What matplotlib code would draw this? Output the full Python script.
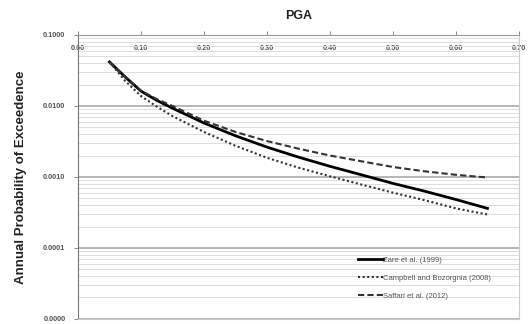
import matplotlib
matplotlib.use("Agg")
import matplotlib.pyplot as plt
from matplotlib.ticker import FixedLocator, LogLocator, NullFormatter

plt.rcParams['font.family'] = ['Liberation Sans', 'DejaVu Sans']

pga = [0.05, 0.075, 0.10, 0.125, 0.15, 0.20, 0.25, 0.30, 0.35, 0.40, 0.45, 0.50, 0.55, 0.60, 0.65]
zare = [0.0417, 0.0256, 0.0162, 0.0120, 0.0093, 0.00575, 0.0038, 0.00263, 0.0019, 0.00141,
        0.00107, 0.00081, 0.00063, 0.00048, 0.00036]
campbell = [0.0417, 0.0225, 0.0138, 0.0098, 0.0072, 0.0043, 0.00275, 0.00186, 0.00135, 0.00102,
            0.00078, 0.0006, 0.00047, 0.00036, 0.000295]
saffari = [0.0417, 0.0256, 0.0164, 0.0125, 0.0100, 0.0062, 0.0043, 0.0032, 0.0025, 0.0020,
           0.00166, 0.00138, 0.0012, 0.00107, 0.00098]
x_ticks = [0.0, 0.1, 0.2, 0.3, 0.4, 0.5, 0.6, 0.7]
y_ticks = [0.1, 0.01, 0.001, 0.0001, 0.00001]

fig = plt.figure(figsize=(5.29, 3.24), dpi=100)
ax = fig.add_axes([0.1474, 0.016, 0.8336, 0.876])

ax.plot(pga, zare, color='black', lw=2.0, label='Zare et al. (1999)')
ax.plot(pga, campbell, color='#333333', lw=1.5, ls=(0, (1, 1.2)),
        label='Campbell and Bozorgnia (2008)')
ax.plot(pga, saffari, color='#333333', lw=1.5, ls=(0, (3, 1.5)),
        label='Saffari et al. (2012)')

ax.set_yscale('log')
ax.set_ylim(0.00001, 0.1)
ax.set_xlim(0, 0.7)

ax.yaxis.set_major_locator(FixedLocator(y_ticks))
ax.set_yticklabels([f"{v:.4f}" for v in y_ticks])
ax.yaxis.set_minor_locator(LogLocator(base=10, subs=range(2, 10)))
ax.yaxis.set_minor_formatter(NullFormatter())
ax.tick_params(axis='y', which='minor', length=0)
ax.tick_params(axis='y', which='major', length=3, width=0.6, color='#777777',
               labelsize=5.3, labelcolor='#555555', pad=6)

ax.set_xticks(x_ticks)
ax.set_xticklabels([f"{v:.2f}" for v in x_ticks])
ax.tick_params(axis='x', top=True, bottom=False, labeltop=True, labelbottom=False,
               direction='out', length=3, width=0.6, color='#777777',
               labelsize=5.3, labelcolor='#555555', pad=-15)
for lbl in ax.get_xticklabels() + ax.get_yticklabels():
    lbl.set_fontweight('bold')

ax.grid(axis='y', which='major', color='#aaaaaa', lw=1.2)
ax.grid(axis='y', which='minor', color='#dddddd', lw=0.7)
ax.set_axisbelow(True)

ax.spines['left'].set_color('#777777')
ax.spines['top'].set_color('#999999')
ax.spines['right'].set_color('#cccccc')
ax.spines['bottom'].set_color('#cccccc')

ax.set_ylabel('Annual Probability of Exceedence', fontsize=9.5, fontweight='bold',
              color='#222222', labelpad=12)
fig.text(0.565, 0.952, 'PGA', ha='center', va='center', fontsize=9,
         fontweight='bold', color='#222222')

leg = ax.legend(loc='upper left', bbox_to_anchor=(0.62, 0.245), frameon=False,
                fontsize=5.5, handlelength=3.2, labelspacing=1.4, handletextpad=0.1)
for t in leg.get_texts():
    t.set_color('#555555')

fig.savefig('out.png', dpi=100)
